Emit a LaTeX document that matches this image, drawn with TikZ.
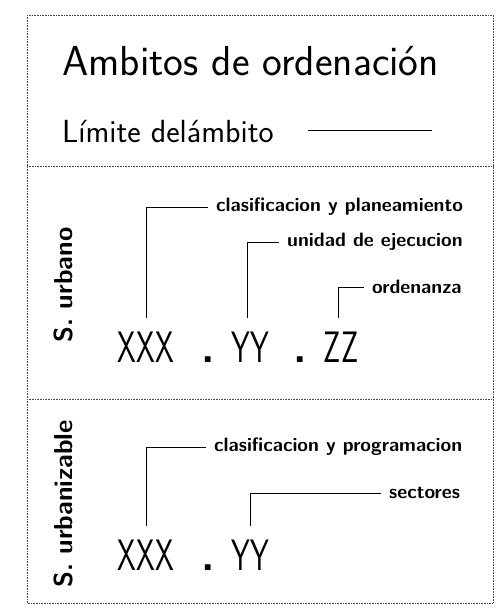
\documentclass[tikz,border=0pt]{standalone}
\usepackage{tikz}
\usetikzlibrary{calc}
\usetikzlibrary{positioning}
\tikzset{frame/.style={draw=black!70,densely dotted,line width=0.6pt}}
\tikzset{code/.style={font=\sffamily\fontsize{44}{44}\selectfont,inner sep=0pt,anchor=base}}
\tikzset{tag/.style={font=\sffamily\bfseries\fontsize{19.4}{19.4}\selectfont,inner sep=0pt,anchor=west}}
\tikzset{side/.style={font=\sffamily\bfseries\fontsize{26}{26}\selectfont,inner sep=0pt,rotate=90}}
\tikzset{leader/.style={draw=black,line width=0.9pt,shorten <=13pt,shorten >=8pt}}
\newcommand{\narrow}[1]{\scalebox{0.68}[1]{#1}}

\begin{document}
\begin{tikzpicture}[x=1pt,y=-1pt]
        \useasboundingbox (0,0) rectangle (498,613);
        \draw[frame] (27,15) rectangle (493,603);
        \draw[frame] (27,166) -- (493,166);
        \draw[frame] (27,399) -- (493,399);

        \node[inner sep=0pt,anchor=base west,font=\sffamily\fontsize{42}{42}\selectfont] (title) at (62,75) {Ambitos de ordenación};
        \node[inner sep=0pt,anchor=base west,font=\sffamily\fontsize{32}{32}\selectfont] (lim) at (62,142) {Límite delámbito};
        \coordinate (limA) at (308,130);
        \coordinate (limB) at (432,130);
        \draw[line width=1pt] (limA) -- (limB);

        \node[side] (urb) at (63,285) {S. urbano};
        \node[code] (xxxA) at (146,362) {\narrow{XXX}};
        \node[code] (dotA) at (208,362) {\textbf{.}};
        \node[code] (yyA) at (250,362) {\narrow{YY}};
        \node[code] (dotB) at (300,362) {\textbf{.}};
        \node[code] (zzA) at (341,362) {\narrow{ZZ}};
        \node[tag] (clasA) at (216,207) {clasificacion y planeamiento};
        \node[tag] (unid) at (287,242) {unidad de ejecucion};
        \node[tag] (orde) at (372,287) {ordenanza};
        \draw[leader] (xxxA.north) |- (clasA.west);
        \draw[leader] ($(yyA.north)+(-3,0)$) |- (unid.west);
        \draw[leader] ($(zzA.north)+(-3,0)$) |- (orde.west);

        \node[side] (urz) at (63,504) {S. urbanizable};
        \node[code] (xxxB) at (146,570) {\narrow{XXX}};
        \node[code] (dotC) at (208,570) {\textbf{.}};
        \node[code] (yyB) at (250,570) {\narrow{YY}};
        \node[tag] (clasB) at (214,447) {clasificacion y programacion};
        \node[tag] (sect) at (389,493) {sectores};
        \draw[leader] (xxxB.north) |- (clasB.west);
        \draw[leader] (yyB.north) |- (sect.west);
    \end{tikzpicture}
\end{document}
